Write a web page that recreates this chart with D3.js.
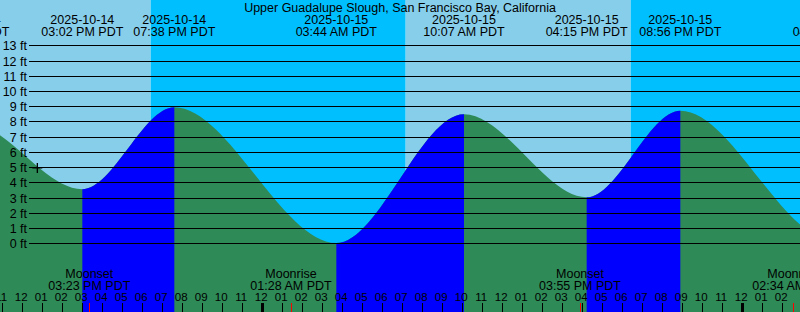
<!DOCTYPE html>
<html>
<head>
<meta charset="utf-8">
<script src="https://cdn.jsdelivr.net/npm/d3@7"></script>
<style>
  body { margin: 0; background: #fff; }
  svg { display: block; }
  text { font-family: "Liberation Sans", Arial, sans-serif; font-size: 12.5px; fill: #000; }
  text.hour { font-size: 11.5px; }
</style>
</head>
<body>
<div id="chart"></div>
<script>
// ---- data ----
const title = "Upper Guadalupe Slough, San Francisco Bay, California";

// high / low tides (first and last ones sit outside the window)
const tideTimes = ["2025-10-14 02:50", "2025-10-14 09:21", "2025-10-14 15:02", "2025-10-14 19:38",
                   "2025-10-15 03:44", "2025-10-15 10:07", "2025-10-15 16:15", "2025-10-15 20:56",
                   "2025-10-16 04:35", "2025-10-16 11:40"];
const tideHeights = [0.4, 7.9, 3.55, 8.93, 0.02, 8.48, 3.02, 8.71, 0.2, 8.3];

const sunTimes = ["2025-10-14 18:27", "2025-10-15 07:12", "2025-10-15 18:27"];
const sunEvents = ["Sunset", "Sunrise", "Sunset"];

const moonTimes = ["2025-10-14 15:23", "2025-10-15 01:28", "2025-10-15 15:55", "2025-10-16 02:34"];
const moonEvents = ["Moonset", "Moonrise", "Moonset", "Moonrise"];

const nowTime = "2025-10-14 12:47";
const nowHeight = 4.95;

const feetTicks = [0, 1, 2, 3, 4, 5, 6, 7, 8, 9, 10, 11, 12, 13];
const windowStart = "2025-10-14 10:55";
const windowEnd = "2025-10-16 02:55";

// ---- setup ----
const width = 800, height = 312;
const parse = d3.timeParse("%Y-%m-%d %H:%M");
const fmtDate = d3.timeFormat("%Y-%m-%d");
const fmtTime = d3.timeFormat("%I:%M %p PDT");
const fmtHour = d3.timeFormat("%I");

const colDay = "#87ceeb", colNight = "#00bfff";
const colFall = "#2e8b57", colRise = "#0000ff";

const tides = tideTimes.map((t, i) => ({ t: parse(t), h: tideHeights[i] }));

const x = d3.scaleTime()
  .domain([parse(windowStart), parse(windowEnd)])
  .range([0, width]);
const y = d3.scaleLinear().domain([0, 13]).range([243.3, 45.3]);

const svg = d3.select("#chart").append("svg")
  .attr("width", width)
  .attr("height", height);

// sky bands: day before first sunset, then alternate
const edges = [x.domain()[0]].concat(sunTimes.map(parse)).concat([x.domain()[1]]);
for (let i = 0; i < edges.length - 1; i++) {
  let isDay = i === 0 ? sunEvents[0] === "Sunset" : sunEvents[i - 1] === "Sunrise";
  svg.append("rect")
    .attr("x", x(edges[i]))
    .attr("y", 0)
    .attr("width", x(edges[i + 1]) - x(edges[i]))
    .attr("height", height)
    .attr("fill", isDay ? colDay : colNight);
}

// tide area
const area = d3.area()
  .x(d => x(d.t))
  .y0(height)
  .y1(d => y(d.h))
  .curve(d3.curveMonotoneX);

svg.append("path")
  .datum(tides)
  .attr("d", area)
  .attr("fill", colFall);

const clip = svg.append("clipPath").attr("id", "rising");
for (let i = 0; i < tides.length - 1; i++) {
  if (tides[i + 1].h > tides[i].h) {
    clip.append("rect")
      .attr("x", x(tides[i].t))
      .attr("y", 0)
      .attr("width", x(tides[i + 1].t) - x(tides[i].t))
      .attr("height", height);
  }
}
svg.append("path")
  .datum(tides)
  .attr("d", area)
  .attr("fill", colRise)
  .attr("clip-path", "url(#rising)");

// grid lines + feet labels
feetTicks.forEach(v => {
  const yy = Math.round(y(v)) + 0.5;
  svg.append("line")
    .attr("x1", 29).attr("x2", width)
    .attr("y1", yy).attr("y2", yy)
    .attr("stroke", "#000")
    .attr("stroke-width", 1);
  svg.append("text")
    .attr("x", 27)
    .attr("y", yy + 4.5)
    .attr("text-anchor", "end")
    .text(v + " ft");
});

// current time marker
const nx = x(parse(nowTime)), ny = y(nowHeight);
svg.append("path")
  .attr("d", `M${nx - 5},${ny}H${nx + 5}M${nx},${ny - 5}V${ny + 5}`)
  .attr("stroke", "#000")
  .attr("stroke-width", 1.3);

// header
svg.append("text")
  .attr("x", width / 2).attr("y", 12)
  .attr("text-anchor", "middle")
  .text(title);

tides.forEach(d => {
  svg.append("text")
    .attr("x", x(d.t)).attr("y", 24)
    .attr("text-anchor", "middle")
    .text(fmtDate(d.t));
  svg.append("text")
    .attr("x", x(d.t)).attr("y", 36)
    .attr("text-anchor", "middle")
    .text(fmtTime(d.t));
});

// hour ticks along the bottom
x.ticks(d3.timeHour.every(1)).forEach(t => {
  const xx = Math.round(x(t)) + 0.5;
  const midnight = t.getHours() === 0;
  svg.append("line")
    .attr("x1", xx).attr("x2", xx)
    .attr("y1", 303).attr("y2", height)
    .attr("stroke", "#000")
    .attr("stroke-width", midnight ? 3 : 1);
  svg.append("text")
    .attr("class", "hour")
    .attr("x", x(t) - 0.5).attr("y", 301)
    .attr("text-anchor", "middle")
    .text(fmtHour(t));
});

// moon events
moonTimes.forEach((m, i) => {
  const t = parse(m);
  const xx = Math.round(x(t)) + 0.5;
  svg.append("line")
    .attr("x1", xx).attr("x2", xx)
    .attr("y1", 303).attr("y2", height)
    .attr("stroke", "#ff0000")
    .attr("stroke-width", 1);
  svg.append("text")
    .attr("x", x(t)).attr("y", 278)
    .attr("text-anchor", "middle")
    .text(moonEvents[i]);
  svg.append("text")
    .attr("x", x(t)).attr("y", 290)
    .attr("text-anchor", "middle")
    .text(fmtTime(t));
});
</script>
</body>
</html>
